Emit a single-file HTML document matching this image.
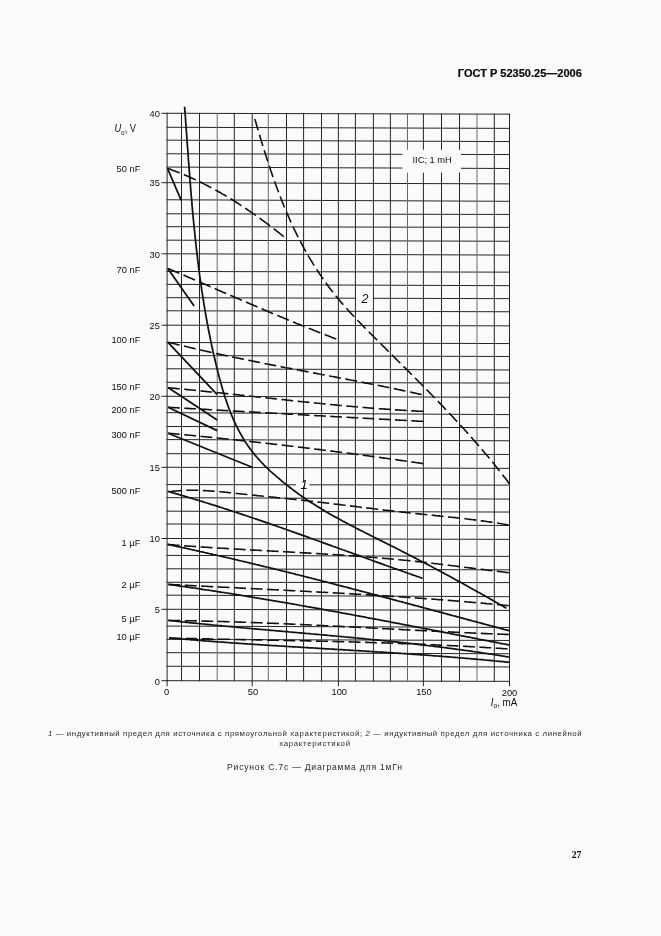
<!DOCTYPE html>
<html><head><meta charset="utf-8"><style>
html,body{margin:0;padding:0;background:#fbfbfb;}
body{width:661px;height:936px;overflow:hidden;font-family:"Liberation Sans",sans-serif;}
svg{display:block;will-change:transform;}
</style></head><body>
<svg width="661" height="936" viewBox="0 0 661 936">
<g fill="#0d0d0d">
<path d="M167.1 112.78L167.1 681.18M181.5 112.82L181.5 681.21M199.5 112.86L199.5 681.25M234.3 112.95L234.3 681.31M252.2 113.00L252.2 681.35M286.5 113.09L286.5 681.42M303.6 113.13L303.6 681.45M321.5 113.18L321.5 681.48M338.4 113.22L338.4 681.52M355.4 113.27L355.4 681.55M373.4 113.31L373.4 681.58M390.4 113.36L390.4 681.62M423.4 113.44L423.4 681.68M441.5 113.49L441.5 681.72M459.5 113.53L459.5 681.75M494.3 113.62L494.3 681.82M509.5 113.66L509.5 681.85M166.6 113.28L510.0 114.16M166.6 127.27L510.0 128.38M166.6 140.17L510.0 141.60M166.6 153.78L510.0 154.56M166.6 167.07L510.0 168.50M166.6 182.67L510.0 183.89M166.6 199.76L510.0 201.31M166.6 213.78L510.0 214.45M166.6 226.68L510.0 227.35M166.6 240.17L510.0 241.28M166.6 253.77L510.0 255.09M166.6 271.48L510.0 272.15M166.6 284.37L510.0 285.69M166.6 297.68L510.0 298.67M166.6 310.78L510.0 311.77M166.6 325.18L510.0 325.85M166.6 342.47L510.0 343.58M166.6 355.58L510.0 356.46M166.6 368.77L510.0 369.99M166.6 382.28L510.0 383.06M166.6 396.28L510.0 397.27M166.6 412.65L510.0 414.64M166.6 426.47L510.0 427.69M166.6 439.57L510.0 440.79M166.6 453.68L510.0 454.46M166.6 467.27L510.0 468.38M166.6 484.59L510.0 485.14M166.6 497.67L510.0 499.10M166.6 511.18L510.0 512.06M166.6 523.96L510.0 525.51M166.6 538.48L510.0 539.36M166.6 555.38L510.0 556.37M166.6 568.77L510.0 569.88M166.6 582.29L510.0 582.62M166.6 595.16L510.0 596.71M166.6 609.27L510.0 610.43M166.6 626.07L510.0 627.45M166.6 639.37L510.0 640.48M166.6 652.67L510.0 653.78M166.6 666.28L510.0 666.95M166.6 680.68L510.0 681.35M161.5 680.7H167.1M161.5 609.3H167.1M161.5 538.5H167.1M161.5 467.3H167.1M161.5 396.3H167.1M161.5 325.2H167.1M161.5 253.8H167.1M161.5 182.7H167.1M161.5 113.3H167.1M167.1 680.68V686.3M252.2 680.85V686.3M338.4 681.02V686.3M423.4 681.18V686.3M509.5 681.35V686.3" stroke="#252525" stroke-width="1.0" fill="none"/>
<path d="M217.2 112.91L217.2 681.28M268.3 113.04L268.3 681.38M407.5 113.40L407.5 681.65M477.0 113.58L477.0 681.78" stroke="#6a6a6a" stroke-width="1.0" fill="none"/>
<rect x="402.5" y="149.8" width="58.5" height="22.8" fill="#fbfbfb"/>
<rect x="356.0" y="296.5" width="16.8" height="3.5" fill="#fbfbfb"/>
<rect x="296.0" y="482.5" width="13.4" height="3.8" fill="#fbfbfb"/>
<path d="M184.6 106.7L184.7 108.2L184.8 109.7L184.9 111.2L185.1 112.7L185.2 114.2L185.3 115.7L185.4 117.2L185.5 118.7L185.6 120.2L185.7 121.7L185.8 123.2L185.9 124.7L186.0 126.2L186.1 127.7L186.2 129.2L186.4 130.7L186.5 132.2L186.6 133.7L186.7 135.2L186.8 136.7L186.9 138.2L187.0 139.7L187.1 141.3L187.2 142.8L187.3 144.3L187.4 145.8L187.5 147.3L187.7 148.8L187.8 150.3L187.9 151.8L188.0 153.3L188.1 154.8L188.2 156.3L188.3 157.8L188.4 159.3L188.5 160.8L188.6 162.3L188.8 163.8L188.9 165.3L189.0 166.8L189.1 168.3L189.2 169.8L189.3 171.3L189.4 172.8L189.6 174.3L189.7 175.8L189.8 177.3L189.9 178.8L190.0 180.3L190.1 181.8L190.3 183.3L190.4 184.8L190.5 186.3L190.6 187.8L190.7 189.3L190.9 190.8L191.0 192.3L191.1 193.8L191.2 195.3L191.4 196.8L191.5 198.3L191.6 199.8L191.8 201.3L191.9 202.9L192.0 204.4L192.1 205.9L192.3 207.4L192.4 208.9L192.5 210.4L192.7 211.9L192.8 213.4L193.0 214.9L193.1 216.4L193.2 217.9L193.4 219.4L193.5 220.9L193.7 222.4L193.8 223.9L194.0 225.4L194.1 226.9L194.3 228.4L194.4 229.9L194.6 231.4L194.7 232.9L194.9 234.4L195.0 235.9L195.2 237.4L195.3 238.9L195.5 240.4L195.7 241.9L195.8 243.3L196.0 244.8L196.1 246.3L196.3 247.8L196.5 249.3L196.7 250.8L196.8 252.3L197.0 253.8L197.2 255.3L197.4 256.8L197.5 258.3L197.7 259.8L197.9 261.3L198.1 262.8L198.3 264.3L198.5 265.8L198.6 267.3L198.8 268.8L199.0 270.3L199.2 271.8L199.4 273.3L199.6 274.8L199.8 276.2L200.0 277.7L200.2 279.2L200.4 280.7L200.6 282.2L200.9 283.7L201.1 285.2L201.3 286.7L201.5 288.2L201.7 289.7L201.9 291.2L202.2 292.7L202.4 294.1L202.6 295.6L202.9 297.1L203.1 298.6L203.3 300.1L203.6 301.6L203.8 303.1L204.0 304.6L204.3 306.0L204.5 307.5L204.8 309.0L205.0 310.5L205.3 312.0L205.5 313.5L205.8 315.0L206.1 316.4L206.3 317.9L206.6 319.4L206.9 320.9L207.1 322.4L207.4 323.9L207.7 325.3L208.0 326.8L208.2 328.3L208.5 329.8L208.8 331.3L209.1 332.7L209.4 334.2L209.7 335.7L210.0 337.2L210.3 338.7L210.6 340.1L210.9 341.6L211.2 343.1L211.5 344.6L211.8 346.0L212.2 347.5L212.5 349.0L212.8 350.5L213.1 351.9L213.5 353.4L213.8 354.9L214.1 356.4L214.5 357.8L214.8 359.3L215.2 360.8L215.5 362.3L215.9 363.7L216.2 365.2L216.6 366.7L216.9 368.1L217.3 369.6L217.7 371.1L218.0 372.5L218.4 374.0L218.8 375.5L219.2 376.9L219.6 378.4L220.0 379.9L220.4 381.3L220.8 382.8L221.2 384.2L221.6 385.7L222.0 387.1L222.4 388.6L222.8 390.0L223.3 391.5L223.7 392.9L224.2 394.4L224.6 395.8L225.1 397.2L225.5 398.7L226.0 400.1L226.5 401.5L227.0 402.9L227.5 404.4L228.0 405.8L228.5 407.2L229.0 408.6L229.6 410.0L230.1 411.4L230.7 412.8L231.2 414.2L231.8 415.6L232.4 416.9L232.9 418.3L233.5 419.7L234.2 421.0L234.8 422.4L235.4 423.7L236.0 425.1L236.7 426.4L237.4 427.7L238.0 429.1L238.7 430.4L239.4 431.7L240.1 433.0L240.8 434.3L241.6 435.6L242.3 436.9L243.1 438.2L243.8 439.4L244.6 440.7L245.4 441.9L246.2 443.2L247.1 444.4L247.9 445.7L248.8 446.9L249.6 448.1L250.5 449.3L251.4 450.5L252.3 451.7L253.2 452.9L254.2 454.0L255.1 455.2L256.1 456.3L257.1 457.5L258.1 458.6L259.1 459.7L260.1 460.9L261.2 462.0L262.2 463.1L263.3 464.2L264.3 465.3L265.4 466.3L266.5 467.4L267.6 468.5L268.7 469.5L269.8 470.6L270.9 471.6L272.1 472.6L273.2 473.7L274.4 474.7L275.5 475.7L276.7 476.7L277.8 477.7L279.0 478.7L280.2 479.7L281.4 480.7L282.5 481.6L283.7 482.6L284.9 483.5L286.1 484.5L287.3 485.4L288.5 486.4L289.7 487.3L290.9 488.2L292.1 489.2L293.4 490.1L294.6 491.0L295.8 491.9L297.0 492.8L298.2 493.7L299.5 494.6L300.7 495.4L301.9 496.3L303.2 497.2L304.4 498.0L305.7 498.9L306.9 499.7L308.2 500.6L309.4 501.4L310.7 502.2L312.0 503.0L313.2 503.8L314.5 504.6L315.8 505.4L317.0 506.2L318.3 507.0L319.6 507.8L320.9 508.6L322.2 509.4L323.4 510.1L324.7 510.9L326.0 511.7L327.3 512.4L328.6 513.2L329.9 513.9L331.2 514.7L332.5 515.4L333.8 516.2L335.1 516.9L336.5 517.6L337.8 518.3L339.1 519.1L340.4 519.8L341.7 520.5L343.0 521.2L344.4 521.9L345.7 522.6L347.0 523.3L348.3 524.0L349.7 524.7L351.0 525.4L352.3 526.1L353.6 526.8L355.0 527.5L356.3 528.2L357.6 528.9L359.0 529.6L360.3 530.3L361.7 530.9L363.0 531.6L364.3 532.3L365.7 533.0L367.0 533.6L368.4 534.3L369.7 535.0L371.0 535.7L372.4 536.3L373.7 537.0L375.1 537.7L376.4 538.4L377.8 539.0L379.1 539.7L380.4 540.4L381.8 541.0L383.1 541.7L384.5 542.4L385.8 543.1L387.2 543.7L388.5 544.4L389.9 545.1L391.2 545.8L392.6 546.4L393.9 547.1L395.2 547.8L396.6 548.5L397.9 549.2L399.3 549.8L400.6 550.5L402.0 551.2L403.3 551.9L404.6 552.6L406.0 553.3L407.3 554.0L408.7 554.7L410.0 555.3L411.3 556.0L412.7 556.7L414.0 557.4L415.4 558.1L416.7 558.8L418.0 559.5L419.4 560.2L420.7 560.9L422.0 561.6L423.4 562.3L424.7 563.0L426.0 563.7L427.4 564.4L428.7 565.1L430.0 565.8L431.4 566.5L432.7 567.2L434.0 568.0L435.4 568.7L436.7 569.4L438.0 570.1L439.4 570.8L440.7 571.5L442.0 572.2L443.4 572.9L444.7 573.7L446.0 574.4L447.3 575.1L448.7 575.8L450.0 576.5L451.3 577.3L452.6 578.0L454.0 578.7L455.3 579.4L456.6 580.2L457.9 580.9L459.3 581.6L460.6 582.3L461.9 583.1L463.2 583.8L464.5 584.5L465.9 585.2L467.2 586.0L468.5 586.7L469.8 587.4L471.1 588.2L472.4 588.9L473.8 589.7L475.1 590.4L476.4 591.1L477.7 591.9L479.0 592.6L480.3 593.3L481.6 594.1L482.9 594.8L484.3 595.6L485.6 596.3L486.9 597.1L488.2 597.8L489.5 598.5L490.8 599.3L492.1 600.0L493.4 600.8L494.7 601.5L496.0 602.3L497.3 603.0L498.6 603.8L499.9 604.5L501.2 605.3L502.5 606.1L503.8 606.8L505.1 607.6L506.4 608.3M167.5 168.3L181.2 200.3M167.8 268.4L194.1 305.9M168.0 342.3L217.2 394.6M168.0 387.6L217.2 420.0M168.0 407.3L217.2 430.6M168.0 433.2L252.2 467.3M167.6 491.3L169.0 491.7L170.5 492.2L172.0 492.6L173.4 493.0L174.9 493.4L176.3 493.8L177.8 494.2L179.3 494.7L180.7 495.1L182.2 495.5L183.6 495.9L185.1 496.4L186.5 496.8L188.0 497.2L189.4 497.7L190.9 498.1L192.3 498.5L193.8 499.0L195.2 499.4L196.7 499.8L198.1 500.3L199.6 500.7L201.0 501.2L202.5 501.6L203.9 502.1L205.4 502.5L206.8 503.0L208.3 503.4L209.7 503.9L211.1 504.3L212.6 504.8L214.0 505.2L215.5 505.7L216.9 506.1L218.4 506.6L219.8 507.1L221.2 507.5L222.7 508.0L224.1 508.5L225.6 508.9L227.0 509.4L228.4 509.9L229.9 510.3L231.3 510.8L232.7 511.3L234.2 511.7L235.6 512.2L237.1 512.7L238.5 513.2L239.9 513.6L241.4 514.1L242.8 514.6L244.2 515.1L245.7 515.5L247.1 516.0L248.5 516.5L250.0 517.0L251.4 517.5L252.8 518.0L254.3 518.5L255.7 518.9L257.1 519.4L258.6 519.9L260.0 520.4L261.4 520.9L262.9 521.4L264.3 521.9L265.7 522.4L267.2 522.9L268.6 523.4L270.0 523.9L271.4 524.3L272.9 524.8L274.3 525.3L275.7 525.8L277.2 526.3L278.6 526.8L280.0 527.3L281.4 527.8L282.9 528.3L284.3 528.8L285.7 529.3L287.1 529.8L288.6 530.3L290.0 530.8L291.4 531.4L292.8 531.9L294.3 532.4L295.7 532.9L297.1 533.4L298.5 533.9L300.0 534.4L301.4 534.9L302.8 535.4L304.2 535.9L305.7 536.4L307.1 536.9L308.5 537.4L309.9 538.0L311.4 538.5L312.8 539.0L314.2 539.5L315.6 540.0L317.1 540.5L318.5 541.0L319.9 541.5L321.3 542.0L322.8 542.6L324.2 543.1L325.6 543.6L327.0 544.1L328.4 544.6L329.9 545.1L331.3 545.6L332.7 546.2L334.1 546.7L335.6 547.2L337.0 547.7L338.4 548.2L339.8 548.7L341.2 549.2L342.7 549.8L344.1 550.3L345.5 550.8L346.9 551.3L348.4 551.8L349.8 552.3L351.2 552.8L352.6 553.4L354.1 553.9L355.5 554.4L356.9 554.9L358.3 555.4L359.7 555.9L361.2 556.4L362.6 557.0L364.0 557.5L365.4 558.0L366.9 558.5L368.3 559.0L369.7 559.5L371.1 560.0L372.6 560.6L374.0 561.1L375.4 561.6L376.8 562.1L378.2 562.6L379.7 563.1L381.1 563.6L382.5 564.1L383.9 564.6L385.4 565.2L386.8 565.7L388.2 566.2L389.6 566.7L391.1 567.2L392.5 567.7L393.9 568.2L395.3 568.7L396.8 569.2L398.2 569.7L399.6 570.2L401.1 570.7L402.5 571.2L403.9 571.8L405.3 572.3L406.8 572.8L408.2 573.3L409.6 573.8L411.0 574.3L412.5 574.8L413.9 575.3L415.3 575.8L416.8 576.3L418.2 576.8L419.6 577.3L421.0 577.8L422.5 578.3M167.6 544.4L169.1 544.7L170.6 545.0L172.0 545.3L173.5 545.7L175.0 546.0L176.5 546.3L178.0 546.6L179.4 546.9L180.9 547.2L182.4 547.6L183.9 547.9L185.4 548.2L186.8 548.5L188.3 548.9L189.8 549.2L191.3 549.5L192.7 549.8L194.2 550.2L195.7 550.5L197.2 550.8L198.7 551.1L200.1 551.5L201.6 551.8L203.1 552.1L204.6 552.5L206.0 552.8L207.5 553.1L209.0 553.5L210.5 553.8L211.9 554.1L213.4 554.5L214.9 554.8L216.4 555.1L217.8 555.5L219.3 555.8L220.8 556.2L222.3 556.5L223.7 556.8L225.2 557.2L226.7 557.5L228.2 557.9L229.6 558.2L231.1 558.5L232.6 558.9L234.0 559.2L235.5 559.6L237.0 559.9L238.5 560.3L239.9 560.6L241.4 561.0L242.9 561.3L244.4 561.7L245.8 562.0L247.3 562.4L248.8 562.7L250.2 563.1L251.7 563.4L253.2 563.8L254.7 564.1L256.1 564.5L257.6 564.8L259.1 565.2L260.5 565.6L262.0 565.9L263.5 566.3L264.9 566.6L266.4 567.0L267.9 567.3L269.4 567.7L270.8 568.1L272.3 568.4L273.8 568.8L275.2 569.2L276.7 569.5L278.2 569.9L279.6 570.2L281.1 570.6L282.6 571.0L284.0 571.3L285.5 571.7L287.0 572.1L288.4 572.4L289.9 572.8L291.4 573.2L292.8 573.5L294.3 573.9L295.8 574.3L297.2 574.6L298.7 575.0L300.2 575.4L301.6 575.7L303.1 576.1L304.6 576.5L306.0 576.9L307.5 577.2L309.0 577.6L310.4 578.0L311.9 578.4L313.4 578.7L314.8 579.1L316.3 579.5L317.8 579.9L319.2 580.2L320.7 580.6L322.2 581.0L323.6 581.4L325.1 581.7L326.6 582.1L328.0 582.5L329.5 582.9L331.0 583.2L332.4 583.6L333.9 584.0L335.3 584.4L336.8 584.8L338.3 585.1L339.7 585.5L341.2 585.9L342.7 586.3L344.1 586.7L345.6 587.0L347.1 587.4L348.5 587.8L350.0 588.2L351.4 588.6L352.9 589.0L354.4 589.3L355.8 589.7L357.3 590.1L358.8 590.5L360.2 590.9L361.7 591.3L363.2 591.7L364.6 592.0L366.1 592.4L367.5 592.8L369.0 593.2L370.5 593.6L371.9 594.0L373.4 594.4L374.9 594.7L376.3 595.1L377.8 595.5L379.2 595.9L380.7 596.3L382.2 596.7L383.6 597.1L385.1 597.5L386.5 597.8L388.0 598.2L389.5 598.6L390.9 599.0L392.4 599.4L393.9 599.8L395.3 600.2L396.8 600.6L398.2 601.0L399.7 601.4L401.2 601.7L402.6 602.1L404.1 602.5L405.6 602.9L407.0 603.3L408.5 603.7L409.9 604.1L411.4 604.5L412.9 604.9L414.3 605.3L415.8 605.7L417.2 606.0L418.7 606.4L420.2 606.8L421.6 607.2L423.1 607.6L424.5 608.0L426.0 608.4L427.5 608.8L428.9 609.2L430.4 609.6L431.9 610.0L433.3 610.4L434.8 610.8L436.2 611.1L437.7 611.5L439.2 611.9L440.6 612.3L442.1 612.7L443.5 613.1L445.0 613.5L446.5 613.9L447.9 614.3L449.4 614.7L450.8 615.1L452.3 615.5L453.8 615.9L455.2 616.2L456.7 616.6L458.2 617.0L459.6 617.4L461.1 617.8L462.5 618.2L464.0 618.6L465.5 619.0L466.9 619.4L468.4 619.8L469.8 620.2L471.3 620.6L472.8 621.0L474.2 621.3L475.7 621.7L477.1 622.1L478.6 622.5L480.1 622.9L481.5 623.3L483.0 623.7L484.4 624.1L485.9 624.5L487.4 624.9L488.8 625.3L490.3 625.7L491.8 626.0L493.2 626.4L494.7 626.8L496.1 627.2L497.6 627.6L499.1 628.0L500.5 628.4L502.0 628.8L503.4 629.2L504.9 629.6L506.4 629.9L507.8 630.3L509.3 630.7M168.3 584.4L169.8 584.6L171.3 584.8L172.8 585.0L174.3 585.2L175.8 585.4L177.3 585.7L178.8 585.9L180.3 586.1L181.8 586.3L183.3 586.5L184.8 586.7L186.3 586.9L187.8 587.1L189.3 587.4L190.8 587.6L192.3 587.8L193.8 588.0L195.3 588.2L196.8 588.5L198.3 588.7L199.7 588.9L201.2 589.1L202.7 589.3L204.2 589.6L205.7 589.8L207.2 590.0L208.7 590.2L210.2 590.5L211.7 590.7L213.2 590.9L214.7 591.1L216.2 591.4L217.7 591.6L219.2 591.8L220.7 592.1L222.2 592.3L223.7 592.5L225.2 592.8L226.7 593.0L228.2 593.2L229.7 593.5L231.1 593.7L232.6 594.0L234.1 594.2L235.6 594.4L237.1 594.7L238.6 594.9L240.1 595.1L241.6 595.4L243.1 595.6L244.6 595.9L246.1 596.1L247.6 596.4L249.1 596.6L250.6 596.8L252.0 597.1L253.5 597.3L255.0 597.6L256.5 597.8L258.0 598.1L259.5 598.3L261.0 598.6L262.5 598.8L264.0 599.1L265.5 599.3L267.0 599.6L268.5 599.8L270.0 600.1L271.4 600.3L272.9 600.6L274.4 600.8L275.9 601.1L277.4 601.4L278.9 601.6L280.4 601.9L281.9 602.1L283.4 602.4L284.9 602.6L286.3 602.9L287.8 603.2L289.3 603.4L290.8 603.7L292.3 603.9L293.8 604.2L295.3 604.5L296.8 604.7L298.3 605.0L299.8 605.3L301.2 605.5L302.7 605.8L304.2 606.0L305.7 606.3L307.2 606.6L308.7 606.8L310.2 607.1L311.7 607.4L313.2 607.6L314.6 607.9L316.1 608.2L317.6 608.4L319.1 608.7L320.6 609.0L322.1 609.2L323.6 609.5L325.1 609.8L326.6 610.1L328.0 610.3L329.5 610.6L331.0 610.9L332.5 611.1L334.0 611.4L335.5 611.7L337.0 612.0L338.5 612.2L339.9 612.5L341.4 612.8L342.9 613.1L344.4 613.3L345.9 613.6L347.4 613.9L348.9 614.2L350.4 614.4L351.8 614.7L353.3 615.0L354.8 615.3L356.3 615.5L357.8 615.8L359.3 616.1L360.8 616.4L362.3 616.7L363.7 616.9L365.2 617.2L366.7 617.5L368.2 617.8L369.7 618.1L371.2 618.3L372.7 618.6L374.1 618.9L375.6 619.2L377.1 619.5L378.6 619.7L380.1 620.0L381.6 620.3L383.1 620.6L384.6 620.9L386.0 621.2L387.5 621.4L389.0 621.7L390.5 622.0L392.0 622.3L393.5 622.6L395.0 622.9L396.4 623.1L397.9 623.4L399.4 623.7L400.9 624.0L402.4 624.3L403.9 624.6L405.4 624.9L406.8 625.1L408.3 625.4L409.8 625.7L411.3 626.0L412.8 626.3L414.3 626.6L415.7 626.9L417.2 627.1L418.7 627.4L420.2 627.7L421.7 628.0L423.2 628.3L424.7 628.6L426.1 628.9L427.6 629.2L429.1 629.4L430.6 629.7L432.1 630.0L433.6 630.3L435.1 630.6L436.5 630.9L438.0 631.2L439.5 631.5L441.0 631.8L442.5 632.0L444.0 632.3L445.5 632.6L446.9 632.9L448.4 633.2L449.9 633.5L451.4 633.8L452.9 634.1L454.4 634.3L455.8 634.6L457.3 634.9L458.8 635.2L460.3 635.5L461.8 635.8L463.3 636.1L464.8 636.4L466.2 636.7L467.7 636.9L469.2 637.2L470.7 637.5L472.2 637.8L473.7 638.1L475.1 638.4L476.6 638.7L478.1 639.0L479.6 639.3L481.1 639.5L482.6 639.8L484.1 640.1L485.5 640.4L487.0 640.7L488.5 641.0L490.0 641.3L491.5 641.6L493.0 641.8L494.5 642.1L495.9 642.4L497.4 642.7L498.9 643.0L500.4 643.3L501.9 643.6L503.4 643.9L504.8 644.1L506.3 644.4L507.8 644.7L509.3 645.0M168.3 620.3L169.8 620.5L171.3 620.7L172.8 620.8L174.3 621.0L175.8 621.2L177.3 621.3L178.8 621.5L180.3 621.6L181.8 621.8L183.3 622.0L184.8 622.1L186.3 622.3L187.8 622.4L189.3 622.6L190.8 622.8L192.3 622.9L193.8 623.1L195.4 623.2L196.9 623.4L198.4 623.5L199.9 623.7L201.4 623.8L202.9 624.0L204.4 624.1L205.9 624.3L207.4 624.4L208.9 624.6L210.4 624.7L211.9 624.9L213.4 625.0L214.9 625.2L216.4 625.3L217.9 625.5L219.4 625.6L220.9 625.7L222.4 625.9L223.9 626.0L225.4 626.2L226.9 626.3L228.4 626.5L229.9 626.6L231.4 626.7L233.0 626.9L234.5 627.0L236.0 627.2L237.5 627.3L239.0 627.4L240.5 627.6L242.0 627.7L243.5 627.9L245.0 628.0L246.5 628.1L248.0 628.3L249.5 628.4L251.0 628.5L252.5 628.7L254.0 628.8L255.5 628.9L257.0 629.1L258.5 629.2L260.0 629.3L261.6 629.5L263.1 629.6L264.6 629.7L266.1 629.9L267.6 630.0L269.1 630.1L270.6 630.3L272.1 630.4L273.6 630.5L275.1 630.7L276.6 630.8L278.1 630.9L279.6 631.1L281.1 631.2L282.6 631.3L284.1 631.5L285.6 631.6L287.2 631.7L288.7 631.9L290.2 632.0L291.7 632.1L293.2 632.3L294.7 632.4L296.2 632.5L297.7 632.7L299.2 632.8L300.7 632.9L302.2 633.1L303.7 633.2L305.2 633.3L306.7 633.5L308.2 633.6L309.7 633.7L311.2 633.9L312.7 634.0L314.3 634.1L315.8 634.3L317.3 634.4L318.8 634.5L320.3 634.7L321.8 634.8L323.3 634.9L324.8 635.1L326.3 635.2L327.8 635.4L329.3 635.5L330.8 635.6L332.3 635.8L333.8 635.9L335.3 636.0L336.8 636.2L338.3 636.3L339.8 636.4L341.3 636.6L342.9 636.7L344.4 636.9L345.9 637.0L347.4 637.1L348.9 637.3L350.4 637.4L351.9 637.6L353.4 637.7L354.9 637.9L356.4 638.0L357.9 638.1L359.4 638.3L360.9 638.4L362.4 638.6L363.9 638.7L365.4 638.9L366.9 639.0L368.4 639.2L369.9 639.3L371.4 639.5L372.9 639.6L374.4 639.8L375.9 639.9L377.5 640.1L379.0 640.2L380.5 640.4L382.0 640.5L383.5 640.7L385.0 640.8L386.5 641.0L388.0 641.1L389.5 641.3L391.0 641.4L392.5 641.6L394.0 641.8L395.5 641.9L397.0 642.1L398.5 642.2L400.0 642.4L401.5 642.6L403.0 642.7L404.5 642.9L406.0 643.1L407.5 643.2L409.0 643.4L410.5 643.6L412.0 643.7L413.5 643.9L415.0 644.1L416.5 644.2L418.0 644.4L419.5 644.6L421.0 644.8L422.5 644.9L424.0 645.1L425.5 645.3L427.0 645.5L428.5 645.7L430.0 645.8L431.5 646.0L433.0 646.2L434.5 646.4L436.0 646.6L437.5 646.7L439.0 646.9L440.5 647.1L442.0 647.3L443.5 647.5L445.0 647.7L446.5 647.9L448.0 648.1L449.5 648.3L451.0 648.5L452.5 648.7L454.0 648.9L455.5 649.1L457.0 649.3L458.5 649.5L460.0 649.7L461.5 649.9L463.0 650.1L464.5 650.3L466.0 650.5L467.5 650.7L469.0 650.9L470.5 651.1L472.0 651.3L473.5 651.5L475.0 651.8L476.5 652.0L477.9 652.2L479.4 652.4L480.9 652.6L482.4 652.9L483.9 653.1L485.4 653.3L486.9 653.5L488.4 653.8L489.9 654.0L491.4 654.2L492.9 654.5L494.4 654.7L495.9 654.9L497.4 655.2L498.9 655.4L500.4 655.6L501.8 655.9L503.3 656.1L504.8 656.4L506.3 656.6L507.8 656.9L509.3 657.1M169.0 637.9L170.5 638.0L172.0 638.1L173.5 638.3L175.0 638.4L176.5 638.5L178.0 638.7L179.5 638.8L181.0 638.9L182.6 639.0L184.1 639.2L185.6 639.3L187.1 639.4L188.6 639.5L190.1 639.7L191.6 639.8L193.1 639.9L194.6 640.0L196.1 640.2L197.6 640.3L199.1 640.4L200.6 640.5L202.1 640.6L203.6 640.8L205.1 640.9L206.6 641.0L208.1 641.1L209.6 641.2L211.2 641.3L212.7 641.4L214.2 641.6L215.7 641.7L217.2 641.8L218.7 641.9L220.2 642.0L221.7 642.1L223.2 642.2L224.7 642.3L226.2 642.4L227.7 642.5L229.2 642.7L230.7 642.8L232.2 642.9L233.7 643.0L235.2 643.1L236.8 643.2L238.3 643.3L239.8 643.4L241.3 643.5L242.8 643.6L244.3 643.7L245.8 643.8L247.3 643.9L248.8 644.0L250.3 644.1L251.8 644.2L253.3 644.3L254.8 644.4L256.3 644.5L257.8 644.6L259.3 644.7L260.9 644.8L262.4 644.9L263.9 645.0L265.4 645.1L266.9 645.2L268.4 645.3L269.9 645.4L271.4 645.5L272.9 645.6L274.4 645.6L275.9 645.7L277.4 645.8L278.9 645.9L280.4 646.0L282.0 646.1L283.5 646.2L285.0 646.3L286.5 646.4L288.0 646.5L289.5 646.6L291.0 646.7L292.5 646.8L294.0 646.9L295.5 646.9L297.0 647.0L298.5 647.1L300.0 647.2L301.5 647.3L303.0 647.4L304.6 647.5L306.1 647.6L307.6 647.7L309.1 647.8L310.6 647.9L312.1 647.9L313.6 648.0L315.1 648.1L316.6 648.2L318.1 648.3L319.6 648.4L321.1 648.5L322.6 648.6L324.1 648.7L325.7 648.8L327.2 648.8L328.7 648.9L330.2 649.0L331.7 649.1L333.2 649.2L334.7 649.3L336.2 649.4L337.7 649.5L339.2 649.6L340.7 649.7L342.2 649.7L343.7 649.8L345.2 649.9L346.8 650.0L348.3 650.1L349.8 650.2L351.3 650.3L352.8 650.4L354.3 650.5L355.8 650.6L357.3 650.7L358.8 650.7L360.3 650.8L361.8 650.9L363.3 651.0L364.8 651.1L366.3 651.2L367.8 651.3L369.4 651.4L370.9 651.5L372.4 651.6L373.9 651.7L375.4 651.8L376.9 651.9L378.4 652.0L379.9 652.1L381.4 652.2L382.9 652.2L384.4 652.3L385.9 652.4L387.4 652.5L388.9 652.6L390.4 652.7L392.0 652.8L393.5 652.9L395.0 653.0L396.5 653.1L398.0 653.2L399.5 653.3L401.0 653.4L402.5 653.5L404.0 653.6L405.5 653.7L407.0 653.8L408.5 653.9L410.0 654.0L411.5 654.1L413.0 654.3L414.5 654.4L416.0 654.5L417.6 654.6L419.1 654.7L420.6 654.8L422.1 654.9L423.6 655.0L425.1 655.1L426.6 655.2L428.1 655.3L429.6 655.4L431.1 655.5L432.6 655.7L434.1 655.8L435.6 655.9L437.1 656.0L438.6 656.1L440.1 656.2L441.6 656.3L443.1 656.5L444.7 656.6L446.2 656.7L447.7 656.8L449.2 656.9L450.7 657.0L452.2 657.2L453.7 657.3L455.2 657.4L456.7 657.5L458.2 657.7L459.7 657.8L461.2 657.9L462.7 658.0L464.2 658.2L465.7 658.3L467.2 658.4L468.7 658.5L470.2 658.7L471.7 658.8L473.2 658.9L474.7 659.1L476.2 659.2L477.7 659.3L479.2 659.5L480.8 659.6L482.3 659.7L483.8 659.9L485.3 660.0L486.8 660.2L488.3 660.3L489.8 660.4L491.3 660.6L492.8 660.7L494.3 660.9L495.8 661.0L497.3 661.2L498.8 661.3L500.3 661.4L501.8 661.6L503.3 661.7L504.8 661.9L506.3 662.1L507.8 662.2L509.3 662.4" stroke="#111" stroke-width="1.75" fill="none" stroke-linejoin="round"/>
<path d="M254.8 119.0L255.2 120.4L255.7 121.9L256.1 123.3L256.5 124.7L256.9 126.2L257.3 127.6L257.8 129.0L258.2 130.5L258.6 131.9L259.0 133.3L259.5 134.8L259.9 136.2L260.3 137.6L260.8 139.1L261.2 140.5L261.6 141.9L262.1 143.4L262.5 144.8L262.9 146.3L263.4 147.7L263.8 149.1L264.3 150.6L264.7 152.0L265.2 153.5L265.7 154.9L266.1 156.3L266.6 157.8L267.0 159.2L267.5 160.6L268.0 162.1L268.4 163.5L268.9 164.9L269.4 166.4L269.9 167.8L270.4 169.3L270.8 170.7L271.3 172.1L271.8 173.6L272.3 175.0L272.8 176.4L273.3 177.8L273.8 179.3L274.3 180.7L274.8 182.1L275.3 183.5L275.9 185.0L276.4 186.4L276.9 187.8L277.4 189.2L278.0 190.7L278.5 192.1L279.0 193.5L279.6 194.9L280.1 196.3L280.7 197.7L281.2 199.1L281.8 200.6L282.3 202.0L282.9 203.4L283.5 204.8L284.0 206.2L284.6 207.6L285.2 209.0L285.8 210.4L286.4 211.8L287.0 213.2L287.6 214.5L288.2 215.9L288.8 217.3L289.4 218.7L290.0 220.1L290.6 221.5L291.3 222.8L291.9 224.2L292.5 225.6L293.2 227.0L293.8 228.3L294.5 229.7L295.1 231.0L295.8 232.4L296.5 233.8L297.1 235.1L297.8 236.5L298.5 237.8L299.2 239.2L299.9 240.5L300.6 241.8L301.3 243.2L302.0 244.5L302.7 245.8L303.4 247.2L304.1 248.5L304.9 249.8L305.6 251.1L306.3 252.4L307.1 253.7L307.8 255.0L308.6 256.3L309.4 257.6L310.1 258.9L310.9 260.2L311.7 261.5L312.5 262.8L313.3 264.1L314.1 265.4L314.9 266.6L315.7 267.9L316.5 269.2L317.3 270.4L318.2 271.7L319.0 272.9L319.8 274.2L320.7 275.4L321.5 276.7L322.4 277.9L323.2 279.2L324.1 280.4L325.0 281.6L325.9 282.8L326.7 284.0L327.6 285.3L328.5 286.5L329.4 287.7L330.3 288.9L331.3 290.1L332.2 291.3L333.1 292.4L334.0 293.6L335.0 294.8L335.9 296.0L336.9 297.1L337.8 298.3L338.8 299.5L339.7 300.6L340.7 301.8L341.7 302.9L342.7 304.0L343.7 305.2L344.6 306.3L345.6 307.4L346.6 308.5L347.7 309.7L348.7 310.8L349.7 311.9L350.7 313.0L351.7 314.1L352.7 315.2L353.8 316.3L354.8 317.4L355.8 318.5L356.9 319.6L357.9 320.7L359.0 321.8L360.0 322.8L361.1 323.9L362.1 325.0L363.2 326.1L364.2 327.1L365.3 328.2L366.3 329.3L367.4 330.4L368.5 331.4L369.5 332.5L370.6 333.6L371.7 334.6L372.7 335.7L373.8 336.8L374.9 337.8L375.9 338.9L377.0 340.0L378.1 341.0L379.1 342.1L380.2 343.2L381.3 344.2L382.3 345.3L383.4 346.4L384.5 347.4L385.5 348.5L386.6 349.6L387.7 350.6L388.8 351.7L389.8 352.8L390.9 353.8L392.0 354.9L393.0 356.0L394.1 357.0L395.2 358.1L396.2 359.1L397.3 360.2L398.4 361.3L399.4 362.3L400.5 363.4L401.6 364.5L402.7 365.5L403.7 366.6L404.8 367.7L405.9 368.7L406.9 369.8L408.0 370.9L409.1 371.9L410.1 373.0L411.2 374.1L412.2 375.1L413.3 376.2L414.4 377.3L415.4 378.3L416.5 379.4L417.6 380.5L418.6 381.6L419.7 382.6L420.8 383.7L421.8 384.8L422.9 385.9L423.9 386.9L425.0 388.0L426.0 389.1L427.1 390.2L428.2 391.2L429.2 392.3L430.3 393.4L431.3 394.5L432.4 395.5L433.4 396.6L434.5 397.7L435.5 398.8L436.6 399.9L437.6 401.0L438.7 402.0L439.7 403.1L440.7 404.2L441.8 405.3L442.8 406.4L443.9 407.5L444.9 408.6L446.0 409.7L447.0 410.8L448.0 411.9L449.1 413.0L450.1 414.1L451.1 415.2L452.2 416.3L453.2 417.4L454.2 418.5L455.2 419.6L456.3 420.7L457.3 421.8L458.3 422.9L459.3 424.0L460.3 425.1L461.4 426.2L462.4 427.3L463.4 428.4L464.4 429.6L465.4 430.7L466.4 431.8L467.4 432.9L468.4 434.0L469.4 435.2L470.4 436.3L471.4 437.4L472.4 438.5L473.4 439.7L474.4 440.8L475.4 441.9L476.4 443.1L477.4 444.2L478.4 445.4L479.4 446.5L480.4 447.6L481.4 448.8L482.3 449.9L483.3 451.1L484.3 452.2L485.3 453.4L486.2 454.5L487.2 455.7L488.2 456.8L489.1 458.0L490.1 459.2L491.0 460.3L492.0 461.5L493.0 462.7L493.9 463.8L494.9 465.0L495.8 466.2L496.8 467.4L497.7 468.5L498.6 469.7L499.6 470.9L500.5 472.1L501.5 473.3L502.4 474.5L503.3 475.7L504.2 476.9L505.2 478.1L506.1 479.3L507.0 480.5L507.9 481.7L508.8 482.9L509.7 484.1" stroke="#111" stroke-width="1.6" fill="none" stroke-linejoin="round" stroke-dasharray="11.82 4.50"/>
<path d="M167.5 168.3L168.9 168.8L170.4 169.3L171.8 169.9L173.2 170.4L174.7 170.9L176.1 171.5L177.5 172.0L178.9 172.6L180.4 173.2L181.8 173.7L183.2 174.3L184.6 174.9L186.0 175.5L187.4 176.1L188.8 176.7L190.2 177.3L191.6 178.0L192.9 178.6L194.3 179.2L195.7 179.9L197.1 180.5L198.5 181.2L199.8 181.8L201.2 182.5L202.6 183.2L203.9 183.9L205.3 184.6L206.6 185.3L208.0 186.0L209.3 186.7L210.7 187.4L212.0 188.1L213.4 188.8L214.7 189.6L216.0 190.3L217.4 191.0L218.7 191.8L220.0 192.5L221.3 193.3L222.7 194.1L224.0 194.8L225.3 195.6L226.6 196.4L227.9 197.2L229.2 197.9L230.5 198.7L231.8 199.5L233.1 200.3L234.4 201.2L235.7 202.0L237.0 202.8L238.3 203.6L239.5 204.4L240.8 205.3L242.1 206.1L243.4 206.9L244.6 207.8L245.9 208.6L247.2 209.5L248.4 210.3L249.7 211.2L251.0 212.1L252.2 212.9L253.5 213.8L254.7 214.7L256.0 215.6L257.2 216.5L258.4 217.3L259.7 218.2L260.9 219.1L262.1 220.0L263.4 220.9L264.6 221.8L265.8 222.7L267.1 223.6L268.3 224.6L269.5 225.5L270.7 226.4L271.9 227.3L273.1 228.2L274.3 229.2L275.5 230.1L276.7 231.0L277.9 232.0L279.1 232.9L280.3 233.9L281.5 234.8L282.7 235.8L283.9 236.7" stroke="#111" stroke-width="1.6" fill="none" stroke-linejoin="round" stroke-dasharray="13.02 4.50"/>
<path d="M167.8 268.4L169.2 269.0L170.6 269.6L172.0 270.2L173.4 270.8L174.8 271.4L176.2 272.0L177.6 272.6L179.0 273.2L180.4 273.8L181.8 274.4L183.2 275.0L184.6 275.6L186.0 276.2L187.4 276.8L188.8 277.4L190.2 278.0L191.6 278.6L193.0 279.2L194.4 279.8L195.8 280.4L197.2 281.0L198.6 281.6L200.0 282.2L201.4 282.8L202.8 283.4L204.2 284.0L205.6 284.6L207.0 285.2L208.4 285.8L209.8 286.4L211.2 287.0L212.6 287.6L214.0 288.2L215.4 288.8L216.8 289.5L218.1 290.1L219.5 290.7L220.9 291.3L222.3 291.9L223.7 292.5L225.1 293.1L226.5 293.7L227.9 294.3L229.3 294.9L230.7 295.5L232.1 296.1L233.5 296.7L234.9 297.3L236.3 297.9L237.7 298.5L239.1 299.1L240.5 299.7L241.9 300.3L243.3 300.9L244.7 301.5L246.1 302.1L247.5 302.7L248.9 303.3L250.3 303.9L251.7 304.5L253.1 305.1L254.5 305.7L255.9 306.3L257.3 306.9L258.7 307.5L260.1 308.1L261.5 308.7L262.9 309.3L264.3 309.9L265.7 310.5L267.1 311.1L268.5 311.7L269.9 312.3L271.3 312.9L272.7 313.5L274.1 314.0L275.5 314.6L276.9 315.2L278.3 315.8L279.8 316.4L281.2 317.0L282.6 317.6L284.0 318.2L285.4 318.7L286.8 319.3L288.2 319.9L289.6 320.5L291.0 321.1L292.4 321.6L293.8 322.2L295.2 322.8L296.6 323.4L298.0 323.9L299.5 324.5L300.9 325.1L302.3 325.7L303.7 326.2L305.1 326.8L306.5 327.4L307.9 327.9L309.3 328.5L310.8 329.1L312.2 329.6L313.6 330.2L315.0 330.8L316.4 331.3L317.8 331.9L319.3 332.4L320.7 333.0L322.1 333.5L323.5 334.1L324.9 334.6L326.3 335.2L327.8 335.7L329.2 336.3L330.6 336.8L332.0 337.4L333.5 337.9L334.9 338.5L336.3 339.0" stroke="#111" stroke-width="1.6" fill="none" stroke-linejoin="round" stroke-dasharray="12.52 4.50"/>
<path d="M168.0 342.2L169.5 342.5L171.0 342.9L172.4 343.3L173.9 343.6L175.4 344.0L176.9 344.4L178.3 344.7L179.8 345.1L181.3 345.4L182.7 345.8L184.2 346.1L185.7 346.5L187.2 346.8L188.6 347.2L190.1 347.5L191.6 347.9L193.1 348.2L194.5 348.6L196.0 348.9L197.5 349.3L199.0 349.6L200.4 349.9L201.9 350.3L203.4 350.6L204.9 351.0L206.3 351.3L207.8 351.6L209.3 351.9L210.8 352.3L212.3 352.6L213.7 352.9L215.2 353.3L216.7 353.6L218.2 353.9L219.7 354.2L221.1 354.5L222.6 354.9L224.1 355.2L225.6 355.5L227.1 355.8L228.5 356.1L230.0 356.4L231.5 356.8L233.0 357.1L234.5 357.4L235.9 357.7L237.4 358.0L238.9 358.3L240.4 358.6L241.9 358.9L243.4 359.2L244.8 359.5L246.3 359.8L247.8 360.1L249.3 360.4L250.8 360.7L252.3 361.0L253.7 361.3L255.2 361.6L256.7 361.9L258.2 362.2L259.7 362.5L261.2 362.8L262.7 363.1L264.1 363.4L265.6 363.7L267.1 364.0L268.6 364.3L270.1 364.6L271.6 364.9L273.1 365.2L274.5 365.4L276.0 365.7L277.5 366.0L279.0 366.3L280.5 366.6L282.0 366.9L283.5 367.2L284.9 367.5L286.4 367.7L287.9 368.0L289.4 368.3L290.9 368.6L292.4 368.9L293.9 369.2L295.4 369.5L296.8 369.7L298.3 370.0L299.8 370.3L301.3 370.6L302.8 370.9L304.3 371.2L305.8 371.4L307.3 371.7L308.7 372.0L310.2 372.3L311.7 372.6L313.2 372.9L314.7 373.1L316.2 373.4L317.7 373.7L319.2 374.0L320.6 374.3L322.1 374.6L323.6 374.8L325.1 375.1L326.6 375.4L328.1 375.7L329.6 376.0L331.1 376.3L332.5 376.5L334.0 376.8L335.5 377.1L337.0 377.4L338.5 377.7L340.0 378.0L341.5 378.2L343.0 378.5L344.4 378.8L345.9 379.1L347.4 379.4L348.9 379.7L350.4 380.0L351.9 380.2L353.4 380.5L354.9 380.8L356.3 381.1L357.8 381.4L359.3 381.7L360.8 382.0L362.3 382.3L363.8 382.6L365.3 382.9L366.7 383.1L368.2 383.4L369.7 383.7L371.2 384.0L372.7 384.3L374.2 384.6L375.7 384.9L377.1 385.2L378.6 385.5L380.1 385.8L381.6 386.1L383.1 386.4L384.6 386.7L386.1 387.0L387.5 387.3L389.0 387.6L390.5 387.9L392.0 388.2L393.5 388.5L395.0 388.8L396.4 389.1L397.9 389.5L399.4 389.8L400.9 390.1L402.4 390.4L403.8 390.7L405.3 391.0L406.8 391.3L408.3 391.6L409.8 392.0L411.3 392.3L412.7 392.6L414.2 392.9L415.7 393.2L417.2 393.6L418.7 393.9L420.1 394.2L421.6 394.5" stroke="#111" stroke-width="1.6" fill="none" stroke-linejoin="round" stroke-dasharray="11.97 4.50"/>
<path d="M168.0 387.7L169.5 387.9L171.0 388.0L172.5 388.1L174.0 388.3L175.5 388.4L177.0 388.6L178.6 388.7L180.1 388.9L181.6 389.0L183.1 389.2L184.6 389.3L186.1 389.4L187.6 389.6L189.1 389.7L190.6 389.9L192.1 390.0L193.6 390.2L195.2 390.3L196.7 390.5L198.2 390.6L199.7 390.8L201.2 391.0L202.7 391.1L204.2 391.3L205.7 391.4L207.2 391.6L208.7 391.7L210.2 391.9L211.7 392.0L213.3 392.2L214.8 392.4L216.3 392.5L217.8 392.7L219.3 392.8L220.8 393.0L222.3 393.1L223.8 393.3L225.3 393.5L226.8 393.6L228.3 393.8L229.8 393.9L231.3 394.1L232.9 394.3L234.4 394.4L235.9 394.6L237.4 394.8L238.9 394.9L240.4 395.1L241.9 395.2L243.4 395.4L244.9 395.6L246.4 395.7L247.9 395.9L249.4 396.0L250.9 396.2L252.4 396.4L254.0 396.5L255.5 396.7L257.0 396.9L258.5 397.0L260.0 397.2L261.5 397.3L263.0 397.5L264.5 397.7L266.0 397.8L267.5 398.0L269.0 398.2L270.5 398.3L272.0 398.5L273.6 398.6L275.1 398.8L276.6 399.0L278.1 399.1L279.6 399.3L281.1 399.4L282.6 399.6L284.1 399.8L285.6 399.9L287.1 400.1L288.6 400.2L290.1 400.4L291.6 400.6L293.2 400.7L294.7 400.9L296.2 401.0L297.7 401.2L299.2 401.4L300.7 401.5L302.2 401.7L303.7 401.8L305.2 402.0L306.7 402.1L308.2 402.3L309.7 402.4L311.2 402.6L312.8 402.7L314.3 402.9L315.8 403.0L317.3 403.2L318.8 403.3L320.3 403.5L321.8 403.6L323.3 403.8L324.8 403.9L326.3 404.1L327.8 404.2L329.4 404.4L330.9 404.5L332.4 404.7L333.9 404.8L335.4 404.9L336.9 405.1L338.4 405.2L339.9 405.4L341.4 405.5L342.9 405.6L344.4 405.8L346.0 405.9L347.5 406.1L349.0 406.2L350.5 406.3L352.0 406.5L353.5 406.6L355.0 406.7L356.5 406.8L358.0 407.0L359.5 407.1L361.1 407.2L362.6 407.4L364.1 407.5L365.6 407.6L367.1 407.7L368.6 407.9L370.1 408.0L371.6 408.1L373.1 408.2L374.7 408.3L376.2 408.4L377.7 408.6L379.2 408.7L380.7 408.8L382.2 408.9L383.7 409.0L385.2 409.1L386.8 409.2L388.3 409.3L389.8 409.4L391.3 409.5L392.8 409.6L394.3 409.8L395.8 409.9L397.3 409.9L398.9 410.0L400.4 410.1L401.9 410.2L403.4 410.3L404.9 410.4L406.4 410.5L407.9 410.6L409.5 410.7L411.0 410.8L412.5 410.9L414.0 410.9L415.5 411.0L417.0 411.1L418.6 411.2L420.1 411.3L421.6 411.3L423.1 411.4" stroke="#111" stroke-width="1.6" fill="none" stroke-linejoin="round" stroke-dasharray="11.80 4.50"/>
<path d="M168.0 407.3L169.5 407.4L171.0 407.5L172.5 407.6L174.0 407.6L175.5 407.7L177.1 407.8L178.6 407.9L180.1 408.0L181.6 408.1L183.1 408.2L184.6 408.2L186.1 408.3L187.6 408.4L189.1 408.5L190.6 408.6L192.1 408.7L193.7 408.8L195.2 408.8L196.7 408.9L198.2 409.0L199.7 409.1L201.2 409.2L202.7 409.3L204.2 409.4L205.7 409.4L207.2 409.5L208.8 409.6L210.3 409.7L211.8 409.8L213.3 409.9L214.8 409.9L216.3 410.0L217.8 410.1L219.3 410.2L220.8 410.3L222.3 410.4L223.8 410.5L225.4 410.5L226.9 410.6L228.4 410.7L229.9 410.8L231.4 410.9L232.9 411.0L234.4 411.1L235.9 411.1L237.4 411.2L238.9 411.3L240.4 411.4L242.0 411.5L243.5 411.6L245.0 411.6L246.5 411.7L248.0 411.8L249.5 411.9L251.0 412.0L252.5 412.1L254.0 412.1L255.5 412.2L257.1 412.3L258.6 412.4L260.1 412.5L261.6 412.6L263.1 412.7L264.6 412.7L266.1 412.8L267.6 412.9L269.1 413.0L270.6 413.1L272.1 413.2L273.7 413.2L275.2 413.3L276.7 413.4L278.2 413.5L279.7 413.6L281.2 413.7L282.7 413.7L284.2 413.8L285.7 413.9L287.2 414.0L288.8 414.1L290.3 414.2L291.8 414.2L293.3 414.3L294.8 414.4L296.3 414.5L297.8 414.6L299.3 414.7L300.8 414.7L302.3 414.8L303.8 414.9L305.4 415.0L306.9 415.1L308.4 415.2L309.9 415.2L311.4 415.3L312.9 415.4L314.4 415.5L315.9 415.6L317.4 415.7L318.9 415.7L320.5 415.8L322.0 415.9L323.5 416.0L325.0 416.1L326.5 416.2L328.0 416.2L329.5 416.3L331.0 416.4L332.5 416.5L334.0 416.6L335.5 416.7L337.1 416.7L338.6 416.8L340.1 416.9L341.6 417.0L343.1 417.1L344.6 417.2L346.1 417.2L347.6 417.3L349.1 417.4L350.6 417.5L352.2 417.6L353.7 417.6L355.2 417.7L356.7 417.8L358.2 417.9L359.7 418.0L361.2 418.1L362.7 418.1L364.2 418.2L365.7 418.3L367.2 418.4L368.8 418.5L370.3 418.5L371.8 418.6L373.3 418.7L374.8 418.8L376.3 418.9L377.8 419.0L379.3 419.0L380.8 419.1L382.3 419.2L383.9 419.3L385.4 419.4L386.9 419.4L388.4 419.5L389.9 419.6L391.4 419.7L392.9 419.8L394.4 419.9L395.9 419.9L397.4 420.0L398.9 420.1L400.5 420.2L402.0 420.3L403.5 420.3L405.0 420.4L406.5 420.5L408.0 420.6L409.5 420.7L411.0 420.8L412.5 420.8L414.0 420.9L415.6 421.0L417.1 421.1L418.6 421.2L420.1 421.2L421.6 421.3L423.1 421.4" stroke="#111" stroke-width="1.6" fill="none" stroke-linejoin="round" stroke-dasharray="11.75 4.50"/>
<path d="M168.0 433.2L169.5 433.3L171.0 433.5L172.5 433.6L174.0 433.8L175.5 433.9L177.0 434.0L178.5 434.2L180.0 434.3L181.5 434.5L183.1 434.6L184.6 434.8L186.1 434.9L187.6 435.0L189.1 435.2L190.6 435.3L192.1 435.5L193.6 435.6L195.1 435.8L196.6 435.9L198.1 436.1L199.6 436.2L201.1 436.4L202.6 436.5L204.1 436.7L205.6 436.8L207.1 437.0L208.6 437.1L210.1 437.3L211.6 437.4L213.1 437.6L214.6 437.7L216.1 437.9L217.6 438.0L219.2 438.2L220.7 438.3L222.2 438.5L223.7 438.7L225.2 438.8L226.7 439.0L228.2 439.1L229.7 439.3L231.2 439.4L232.7 439.6L234.2 439.8L235.7 439.9L237.2 440.1L238.7 440.2L240.2 440.4L241.7 440.6L243.2 440.7L244.7 440.9L246.2 441.0L247.7 441.2L249.2 441.4L250.7 441.5L252.2 441.7L253.7 441.9L255.2 442.0L256.7 442.2L258.2 442.4L259.7 442.5L261.2 442.7L262.7 442.9L264.2 443.0L265.7 443.2L267.2 443.4L268.7 443.5L270.2 443.7L271.7 443.9L273.2 444.1L274.7 444.2L276.2 444.4L277.7 444.6L279.2 444.8L280.7 444.9L282.2 445.1L283.7 445.3L285.2 445.5L286.7 445.6L288.3 445.8L289.8 446.0L291.3 446.2L292.8 446.3L294.3 446.5L295.8 446.7L297.3 446.9L298.8 447.1L300.3 447.2L301.8 447.4L303.3 447.6L304.8 447.8L306.3 448.0L307.8 448.1L309.3 448.3L310.8 448.5L312.3 448.7L313.8 448.9L315.3 449.1L316.8 449.2L318.3 449.4L319.8 449.6L321.3 449.8L322.8 450.0L324.3 450.2L325.8 450.4L327.3 450.6L328.8 450.7L330.3 450.9L331.8 451.1L333.3 451.3L334.8 451.5L336.2 451.7L337.7 451.9L339.2 452.1L340.7 452.3L342.2 452.5L343.7 452.7L345.2 452.9L346.7 453.0L348.2 453.2L349.7 453.4L351.2 453.6L352.7 453.8L354.2 454.0L355.7 454.2L357.2 454.4L358.7 454.6L360.2 454.8L361.7 455.0L363.2 455.2L364.7 455.4L366.2 455.6L367.7 455.8L369.2 456.0L370.7 456.2L372.2 456.4L373.7 456.6L375.2 456.8L376.7 457.0L378.2 457.2L379.7 457.4L381.2 457.7L382.7 457.9L384.2 458.1L385.7 458.3L387.2 458.5L388.7 458.7L390.2 458.9L391.7 459.1L393.2 459.3L394.7 459.5L396.2 459.7L397.7 459.9L399.2 460.2L400.7 460.4L402.2 460.6L403.7 460.8L405.1 461.0L406.6 461.2L408.1 461.4L409.6 461.6L411.1 461.9L412.6 462.1L414.1 462.3L415.6 462.5L417.1 462.7L418.6 462.9L420.1 463.2L421.6 463.4L423.1 463.6" stroke="#111" stroke-width="1.6" fill="none" stroke-linejoin="round" stroke-dasharray="11.84 4.50"/>
<path d="M170.0 491.7L171.5 491.5L173.0 491.3L174.5 491.1L176.0 491.0L177.5 490.9L179.1 490.7L180.6 490.6L182.1 490.5L183.6 490.5L185.1 490.4L186.6 490.3L188.1 490.3L189.6 490.3L191.1 490.3L192.6 490.3L194.1 490.3L195.6 490.3L197.1 490.3L198.6 490.3L200.1 490.4L201.6 490.5L203.1 490.5L204.6 490.6L206.1 490.7L207.7 490.8L209.2 490.9L210.7 491.0L212.2 491.1L213.7 491.2L215.2 491.3L216.7 491.4L218.2 491.6L219.7 491.7L221.2 491.8L222.7 492.0L224.2 492.1L225.7 492.3L227.2 492.4L228.7 492.6L230.2 492.7L231.7 492.9L233.2 493.1L234.7 493.2L236.2 493.4L237.7 493.5L239.2 493.7L240.7 493.9L242.2 494.0L243.7 494.2L245.2 494.3L246.7 494.5L248.2 494.6L249.7 494.8L251.2 495.0L252.7 495.1L254.2 495.3L255.7 495.4L257.2 495.6L258.7 495.7L260.2 495.9L261.7 496.0L263.2 496.2L264.7 496.3L266.2 496.5L267.7 496.6L269.2 496.8L270.7 497.0L272.2 497.1L273.7 497.3L275.2 497.4L276.7 497.6L278.2 497.7L279.7 497.9L281.2 498.0L282.7 498.2L284.2 498.3L285.7 498.5L287.2 498.6L288.7 498.8L290.2 499.0L291.7 499.1L293.2 499.3L294.7 499.4L296.2 499.6L297.7 499.8L299.2 499.9L300.7 500.1L302.2 500.2L303.7 500.4L305.2 500.6L306.7 500.7L308.2 500.9L309.7 501.1L311.2 501.2L312.7 501.4L314.2 501.6L315.7 501.8L317.2 501.9L318.7 502.1L320.2 502.3L321.7 502.5L323.2 502.6L324.7 502.8L326.2 503.0L327.7 503.2L329.2 503.3L330.7 503.5L332.2 503.7L333.7 503.9L335.2 504.1L336.7 504.2L338.2 504.4L339.7 504.6L341.2 504.8L342.7 505.0L344.2 505.2L345.7 505.3L347.2 505.5L348.7 505.7L350.2 505.9L351.7 506.1L353.2 506.3L354.7 506.4L356.2 506.6L357.7 506.8L359.2 507.0L360.7 507.2L362.2 507.4L363.6 507.5L365.1 507.7L366.6 507.9L368.1 508.1L369.6 508.3L371.1 508.4L372.6 508.6L374.1 508.8L375.6 509.0L377.1 509.2L378.6 509.3L380.1 509.5L381.6 509.7L383.1 509.9L384.6 510.1L386.1 510.2L387.6 510.4L389.1 510.6L390.6 510.8L392.1 510.9L393.6 511.1L395.1 511.3L396.6 511.5L398.1 511.6L399.6 511.8L401.1 512.0L402.6 512.1L404.1 512.3L405.6 512.5L407.1 512.6L408.6 512.8L410.1 513.0L411.6 513.1L413.1 513.3L414.6 513.4L416.1 513.6L417.6 513.7L419.1 513.9L420.6 514.1L422.1 514.2L423.6 514.4L425.1 514.5L426.6 514.7L428.1 514.8L429.6 515.0L431.1 515.1L432.6 515.3L434.1 515.4L435.6 515.6L437.1 515.7L438.6 515.9L440.1 516.1L441.6 516.2L443.2 516.4L444.7 516.5L446.2 516.7L447.7 516.8L449.2 517.0L450.7 517.2L452.2 517.3L453.7 517.5L455.2 517.6L456.7 517.8L458.2 518.0L459.7 518.1L461.2 518.3L462.7 518.5L464.2 518.6L465.7 518.8L467.2 519.0L468.7 519.2L470.2 519.4L471.7 519.5L473.2 519.7L474.7 519.9L476.2 520.1L477.6 520.3L479.1 520.5L480.6 520.7L482.1 520.9L483.6 521.1L485.1 521.3L486.6 521.5L488.1 521.7L489.6 521.9L491.1 522.1L492.6 522.3L494.1 522.6L495.6 522.8L497.1 523.0L498.6 523.3L500.1 523.5L501.6 523.7L503.0 524.0L504.5 524.2L506.0 524.5L507.5 524.8L509.0 525.0" stroke="#111" stroke-width="1.6" fill="none" stroke-linejoin="round" stroke-dasharray="11.95 4.50"/>
<path d="M167.6 544.5L169.1 544.6L170.6 544.7L172.1 544.8L173.6 544.9L175.1 545.1L176.6 545.2L178.1 545.3L179.6 545.4L181.1 545.5L182.7 545.6L184.2 545.8L185.7 545.9L187.2 546.0L188.7 546.1L190.2 546.2L191.7 546.3L193.2 546.4L194.7 546.5L196.2 546.6L197.7 546.7L199.2 546.8L200.7 546.9L202.2 547.0L203.7 547.1L205.3 547.2L206.8 547.3L208.3 547.4L209.8 547.5L211.3 547.6L212.8 547.7L214.3 547.8L215.8 547.9L217.3 548.0L218.8 548.1L220.3 548.2L221.8 548.3L223.3 548.3L224.8 548.4L226.4 548.5L227.9 548.6L229.4 548.7L230.9 548.8L232.4 548.9L233.9 549.0L235.4 549.1L236.9 549.1L238.4 549.2L239.9 549.3L241.4 549.4L242.9 549.5L244.4 549.6L245.9 549.6L247.5 549.7L249.0 549.8L250.5 549.9L252.0 550.0L253.5 550.1L255.0 550.1L256.5 550.2L258.0 550.3L259.5 550.4L261.0 550.5L262.5 550.6L264.0 550.6L265.5 550.7L267.1 550.8L268.6 550.9L270.1 551.0L271.6 551.0L273.1 551.1L274.6 551.2L276.1 551.3L277.6 551.4L279.1 551.4L280.6 551.5L282.1 551.6L283.6 551.7L285.1 551.8L286.6 551.9L288.2 551.9L289.7 552.0L291.2 552.1L292.7 552.2L294.2 552.3L295.7 552.3L297.2 552.4L298.7 552.5L300.2 552.6L301.7 552.7L303.2 552.8L304.7 552.9L306.2 552.9L307.7 553.0L309.3 553.1L310.8 553.2L312.3 553.3L313.8 553.4L315.3 553.5L316.8 553.5L318.3 553.6L319.8 553.7L321.3 553.8L322.8 553.9L324.3 554.0L325.8 554.1L327.3 554.2L328.8 554.3L330.3 554.4L331.8 554.5L333.4 554.6L334.9 554.7L336.4 554.8L337.9 554.9L339.4 554.9L340.9 555.0L342.4 555.1L343.9 555.2L345.4 555.4L346.9 555.5L348.4 555.6L349.9 555.7L351.4 555.8L352.9 555.9L354.4 556.0L355.9 556.1L357.4 556.2L358.9 556.3L360.4 556.4L362.0 556.5L363.5 556.6L365.0 556.8L366.5 556.9L368.0 557.0L369.5 557.1L371.0 557.2L372.5 557.3L374.0 557.5L375.5 557.6L377.0 557.7L378.5 557.8L380.0 558.0L381.5 558.1L383.0 558.2L384.5 558.4L386.0 558.5L387.5 558.6L389.0 558.8L390.5 558.9L392.0 559.0L393.5 559.2L395.0 559.3L396.5 559.4L398.0 559.6L399.5 559.7L401.0 559.9L402.5 560.0L404.0 560.2L405.5 560.3L407.0 560.5L408.5 560.6L410.0 560.8L411.5 560.9L413.0 561.1L414.5 561.3L416.0 561.4L417.5 561.6L419.0 561.8L420.5 561.9L422.0 562.1L423.5 562.3L425.0 562.4L426.5 562.6L428.0 562.8L429.5 562.9L431.0 563.1L432.5 563.3L434.0 563.5L435.5 563.7L437.0 563.8L438.5 564.0L440.0 564.2L441.5 564.4L443.0 564.6L444.5 564.7L446.0 564.9L447.5 565.1L449.0 565.3L450.5 565.5L452.0 565.7L453.5 565.8L455.0 566.0L456.5 566.2L458.0 566.4L459.5 566.6L461.0 566.8L462.5 567.0L464.0 567.2L465.5 567.4L467.0 567.5L468.5 567.7L470.0 567.9L471.5 568.1L473.0 568.3L474.5 568.5L476.0 568.7L477.5 568.9L479.0 569.1L480.5 569.2L482.0 569.4L483.5 569.6L485.0 569.8L486.5 570.0L488.0 570.2L489.5 570.4L491.0 570.5L492.5 570.7L494.0 570.9L495.5 571.1L497.0 571.3L498.5 571.5L500.0 571.6L501.5 571.8L503.0 572.0L504.5 572.2L506.0 572.4L507.5 572.5L509.0 572.7" stroke="#111" stroke-width="1.6" fill="none" stroke-linejoin="round" stroke-dasharray="12.03 4.50"/>
<path d="M168.3 584.4L169.8 584.5L171.3 584.5L172.8 584.6L174.3 584.7L175.8 584.8L177.4 584.9L178.9 584.9L180.4 585.0L181.9 585.1L183.4 585.2L184.9 585.2L186.4 585.3L187.9 585.4L189.4 585.5L190.9 585.6L192.4 585.6L193.9 585.7L195.5 585.8L197.0 585.9L198.5 585.9L200.0 586.0L201.5 586.1L203.0 586.2L204.5 586.3L206.0 586.3L207.5 586.4L209.0 586.5L210.5 586.6L212.0 586.6L213.6 586.7L215.1 586.8L216.6 586.9L218.1 586.9L219.6 587.0L221.1 587.1L222.6 587.2L224.1 587.2L225.6 587.3L227.1 587.4L228.6 587.5L230.2 587.5L231.7 587.6L233.2 587.7L234.7 587.8L236.2 587.8L237.7 587.9L239.2 588.0L240.7 588.1L242.2 588.1L243.7 588.2L245.2 588.3L246.7 588.4L248.3 588.4L249.8 588.5L251.3 588.6L252.8 588.7L254.3 588.7L255.8 588.8L257.3 588.9L258.8 589.0L260.3 589.0L261.8 589.1L263.3 589.2L264.9 589.3L266.4 589.3L267.9 589.4L269.4 589.5L270.9 589.6L272.4 589.6L273.9 589.7L275.4 589.8L276.9 589.9L278.4 589.9L279.9 590.0L281.5 590.1L283.0 590.2L284.5 590.2L286.0 590.3L287.5 590.4L289.0 590.5L290.5 590.6L292.0 590.6L293.5 590.7L295.0 590.8L296.5 590.9L298.0 590.9L299.6 591.0L301.1 591.1L302.6 591.2L304.1 591.3L305.6 591.3L307.1 591.4L308.6 591.5L310.1 591.6L311.6 591.7L313.1 591.7L314.6 591.8L316.2 591.9L317.7 592.0L319.2 592.1L320.7 592.1L322.2 592.2L323.7 592.3L325.2 592.4L326.7 592.5L328.2 592.5L329.7 592.6L331.2 592.7L332.7 592.8L334.3 592.9L335.8 593.0L337.3 593.0L338.8 593.1L340.3 593.2L341.8 593.3L343.3 593.4L344.8 593.5L346.3 593.6L347.8 593.6L349.3 593.7L350.8 593.8L352.4 593.9L353.9 594.0L355.4 594.1L356.9 594.2L358.4 594.3L359.9 594.3L361.4 594.4L362.9 594.5L364.4 594.6L365.9 594.7L367.4 594.8L368.9 594.9L370.4 595.0L372.0 595.1L373.5 595.2L375.0 595.3L376.5 595.3L378.0 595.4L379.5 595.5L381.0 595.6L382.5 595.7L384.0 595.8L385.5 595.9L387.0 596.0L388.5 596.1L390.0 596.2L391.6 596.3L393.1 596.4L394.6 596.5L396.1 596.6L397.6 596.7L399.1 596.8L400.6 596.9L402.1 597.0L403.6 597.1L405.1 597.2L406.6 597.3L408.1 597.4L409.6 597.5L411.1 597.6L412.7 597.7L414.2 597.8L415.7 597.9L417.2 598.0L418.7 598.1L420.2 598.2L421.7 598.3L423.2 598.5L424.7 598.6L426.2 598.7L427.7 598.8L429.2 598.9L430.7 599.0L432.2 599.1L433.7 599.2L435.3 599.3L436.8 599.5L438.3 599.6L439.8 599.7L441.3 599.8L442.8 599.9L444.3 600.0L445.8 600.1L447.3 600.3L448.8 600.4L450.3 600.5L451.8 600.6L453.3 600.7L454.8 600.9L456.3 601.0L457.8 601.1L459.3 601.2L460.9 601.4L462.4 601.5L463.9 601.6L465.4 601.7L466.9 601.9L468.4 602.0L469.9 602.1L471.4 602.2L472.9 602.4L474.4 602.5L475.9 602.6L477.4 602.8L478.9 602.9L480.4 603.0L481.9 603.1L483.4 603.3L484.9 603.4L486.4 603.6L487.9 603.7L489.4 603.8L491.0 604.0L492.5 604.1L494.0 604.2L495.5 604.4L497.0 604.5L498.5 604.7L500.0 604.8L501.5 604.9L503.0 605.1L504.5 605.2L506.0 605.4L507.5 605.5L509.0 605.7" stroke="#111" stroke-width="1.6" fill="none" stroke-linejoin="round" stroke-dasharray="11.97 4.50"/>
<path d="M168.3 620.4L169.8 620.5L171.3 620.5L172.8 620.5L174.3 620.5L175.9 620.5L177.4 620.6L178.9 620.6L180.4 620.6L181.9 620.6L183.4 620.6L184.9 620.7L186.4 620.7L187.9 620.7L189.4 620.8L191.0 620.8L192.5 620.8L194.0 620.8L195.5 620.9L197.0 620.9L198.5 620.9L200.0 621.0L201.5 621.0L203.0 621.0L204.5 621.1L206.1 621.1L207.6 621.1L209.1 621.2L210.6 621.2L212.1 621.3L213.6 621.3L215.1 621.3L216.6 621.4L218.1 621.4L219.6 621.5L221.2 621.5L222.7 621.5L224.2 621.6L225.7 621.6L227.2 621.7L228.7 621.7L230.2 621.8L231.7 621.8L233.2 621.9L234.7 621.9L236.2 622.0L237.8 622.0L239.3 622.1L240.8 622.1L242.3 622.2L243.8 622.2L245.3 622.3L246.8 622.3L248.3 622.4L249.8 622.4L251.3 622.5L252.9 622.5L254.4 622.6L255.9 622.6L257.4 622.7L258.9 622.8L260.4 622.8L261.9 622.9L263.4 622.9L264.9 623.0L266.4 623.1L267.9 623.1L269.5 623.2L271.0 623.2L272.5 623.3L274.0 623.4L275.5 623.4L277.0 623.5L278.5 623.5L280.0 623.6L281.5 623.7L283.0 623.7L284.5 623.8L286.0 623.9L287.6 623.9L289.1 624.0L290.6 624.1L292.1 624.1L293.6 624.2L295.1 624.3L296.6 624.3L298.1 624.4L299.6 624.5L301.1 624.5L302.6 624.6L304.2 624.7L305.7 624.7L307.2 624.8L308.7 624.9L310.2 625.0L311.7 625.0L313.2 625.1L314.7 625.2L316.2 625.2L317.7 625.3L319.2 625.4L320.7 625.5L322.3 625.5L323.8 625.6L325.3 625.7L326.8 625.8L328.3 625.8L329.8 625.9L331.3 626.0L332.8 626.0L334.3 626.1L335.8 626.2L337.3 626.3L338.8 626.3L340.4 626.4L341.9 626.5L343.4 626.6L344.9 626.7L346.4 626.7L347.9 626.8L349.4 626.9L350.9 627.0L352.4 627.0L353.9 627.1L355.4 627.2L356.9 627.3L358.5 627.3L360.0 627.4L361.5 627.5L363.0 627.6L364.5 627.6L366.0 627.7L367.5 627.8L369.0 627.9L370.5 628.0L372.0 628.0L373.5 628.1L375.0 628.2L376.5 628.3L378.1 628.3L379.6 628.4L381.1 628.5L382.6 628.6L384.1 628.7L385.6 628.7L387.1 628.8L388.6 628.9L390.1 629.0L391.6 629.0L393.1 629.1L394.6 629.2L396.2 629.3L397.7 629.4L399.2 629.4L400.7 629.5L402.2 629.6L403.7 629.7L405.2 629.7L406.7 629.8L408.2 629.9L409.7 630.0L411.2 630.1L412.7 630.1L414.3 630.2L415.8 630.3L417.3 630.4L418.8 630.4L420.3 630.5L421.8 630.6L423.3 630.7L424.8 630.7L426.3 630.8L427.8 630.9L429.3 631.0L430.8 631.0L432.4 631.1L433.9 631.2L435.4 631.3L436.9 631.3L438.4 631.4L439.9 631.5L441.4 631.6L442.9 631.6L444.4 631.7L445.9 631.8L447.4 631.9L448.9 631.9L450.5 632.0L452.0 632.1L453.5 632.1L455.0 632.2L456.5 632.3L458.0 632.4L459.5 632.4L461.0 632.5L462.5 632.6L464.0 632.6L465.5 632.7L467.0 632.8L468.6 632.8L470.1 632.9L471.6 633.0L473.1 633.0L474.6 633.1L476.1 633.2L477.6 633.2L479.1 633.3L480.6 633.4L482.1 633.4L483.6 633.5L485.2 633.6L486.7 633.6L488.2 633.7L489.7 633.8L491.2 633.8L492.7 633.9L494.2 634.0L495.7 634.0L497.2 634.1L498.7 634.1L500.2 634.2L501.8 634.3L503.3 634.3L504.8 634.4L506.3 634.4L507.8 634.5L509.3 634.5" stroke="#111" stroke-width="1.6" fill="none" stroke-linejoin="round" stroke-dasharray="11.97 4.50"/>
<path d="M169.0 638.1L170.5 638.1L172.0 638.2L173.5 638.2L175.0 638.2L176.6 638.3L178.1 638.3L179.6 638.3L181.1 638.4L182.6 638.4L184.1 638.4L185.6 638.5L187.2 638.5L188.7 638.5L190.2 638.5L191.7 638.6L193.2 638.6L194.7 638.6L196.2 638.7L197.7 638.7L199.3 638.7L200.8 638.8L202.3 638.8L203.8 638.8L205.3 638.9L206.8 638.9L208.3 638.9L209.8 639.0L211.4 639.0L212.9 639.0L214.4 639.0L215.9 639.1L217.4 639.1L218.9 639.1L220.4 639.2L221.9 639.2L223.5 639.2L225.0 639.2L226.5 639.3L228.0 639.3L229.5 639.3L231.0 639.4L232.5 639.4L234.0 639.4L235.6 639.5L237.1 639.5L238.6 639.5L240.1 639.5L241.6 639.6L243.1 639.6L244.6 639.6L246.1 639.7L247.7 639.7L249.2 639.7L250.7 639.7L252.2 639.8L253.7 639.8L255.2 639.8L256.7 639.9L258.2 639.9L259.8 639.9L261.3 639.9L262.8 640.0L264.3 640.0L265.8 640.0L267.3 640.1L268.8 640.1L270.3 640.1L271.9 640.2L273.4 640.2L274.9 640.2L276.4 640.2L277.9 640.3L279.4 640.3L280.9 640.3L282.4 640.4L284.0 640.4L285.5 640.4L287.0 640.5L288.5 640.5L290.0 640.5L291.5 640.6L293.0 640.6L294.5 640.6L296.1 640.6L297.6 640.7L299.1 640.7L300.6 640.7L302.1 640.8L303.6 640.8L305.1 640.8L306.6 640.9L308.2 640.9L309.7 640.9L311.2 641.0L312.7 641.0L314.2 641.0L315.7 641.1L317.2 641.1L318.7 641.1L320.3 641.2L321.8 641.2L323.3 641.3L324.8 641.3L326.3 641.3L327.8 641.4L329.3 641.4L330.8 641.4L332.4 641.5L333.9 641.5L335.4 641.5L336.9 641.6L338.4 641.6L339.9 641.7L341.4 641.7L342.9 641.7L344.5 641.8L346.0 641.8L347.5 641.9L349.0 641.9L350.5 641.9L352.0 642.0L353.5 642.0L355.0 642.1L356.6 642.1L358.1 642.1L359.6 642.2L361.1 642.2L362.6 642.3L364.1 642.3L365.6 642.4L367.1 642.4L368.7 642.5L370.2 642.5L371.7 642.5L373.2 642.6L374.7 642.6L376.2 642.7L377.7 642.7L379.2 642.8L380.7 642.8L382.3 642.9L383.8 642.9L385.3 643.0L386.8 643.0L388.3 643.1L389.8 643.1L391.3 643.2L392.8 643.2L394.4 643.3L395.9 643.3L397.4 643.4L398.9 643.4L400.4 643.5L401.9 643.6L403.4 643.6L404.9 643.7L406.5 643.7L408.0 643.8L409.5 643.8L411.0 643.9L412.5 644.0L414.0 644.0L415.5 644.1L417.0 644.1L418.5 644.2L420.1 644.3L421.6 644.3L423.1 644.4L424.6 644.4L426.1 644.5L427.6 644.6L429.1 644.6L430.6 644.7L432.1 644.8L433.7 644.8L435.2 644.9L436.7 645.0L438.2 645.0L439.7 645.1L441.2 645.2L442.7 645.2L444.2 645.3L445.8 645.4L447.3 645.5L448.8 645.5L450.3 645.6L451.8 645.7L453.3 645.7L454.8 645.8L456.3 645.9L457.8 646.0L459.4 646.1L460.9 646.1L462.4 646.2L463.9 646.3L465.4 646.4L466.9 646.4L468.4 646.5L469.9 646.6L471.4 646.7L473.0 646.8L474.5 646.9L476.0 646.9L477.5 647.0L479.0 647.1L480.5 647.2L482.0 647.3L483.5 647.4L485.0 647.5L486.5 647.6L488.1 647.7L489.6 647.7L491.1 647.8L492.6 647.9L494.1 648.0L495.6 648.1L497.1 648.2L498.6 648.3L500.1 648.4L501.7 648.5L503.2 648.6L504.7 648.7L506.2 648.8L507.7 648.9" stroke="#111" stroke-width="1.6" fill="none" stroke-linejoin="round" stroke-dasharray="11.85 4.50"/>
<text x="159.9" y="116.6" text-anchor="end" font-size="9.3" font-family="Liberation Sans, sans-serif">40</text>
<text x="159.9" y="186.0" text-anchor="end" font-size="9.3" font-family="Liberation Sans, sans-serif">35</text>
<text x="159.9" y="257.6" text-anchor="end" font-size="9.3" font-family="Liberation Sans, sans-serif">30</text>
<text x="159.9" y="328.8" text-anchor="end" font-size="9.3" font-family="Liberation Sans, sans-serif">25</text>
<text x="159.9" y="400.1" text-anchor="end" font-size="9.3" font-family="Liberation Sans, sans-serif">20</text>
<text x="159.9" y="470.6" text-anchor="end" font-size="9.3" font-family="Liberation Sans, sans-serif">15</text>
<text x="159.9" y="542.2" text-anchor="end" font-size="9.3" font-family="Liberation Sans, sans-serif">10</text>
<text x="159.9" y="613.0" text-anchor="end" font-size="9.3" font-family="Liberation Sans, sans-serif">5</text>
<text x="159.9" y="684.9" text-anchor="end" font-size="9.3" font-family="Liberation Sans, sans-serif">0</text>
<text x="166.7" y="694.5" text-anchor="middle" font-size="9.3" font-family="Liberation Sans, sans-serif">0</text>
<text x="252.9" y="694.5" text-anchor="middle" font-size="9.3" font-family="Liberation Sans, sans-serif">50</text>
<text x="339.3" y="694.8" text-anchor="middle" font-size="9.3" font-family="Liberation Sans, sans-serif">100</text>
<text x="423.9" y="695.4" text-anchor="middle" font-size="9.3" font-family="Liberation Sans, sans-serif">150</text>
<text x="509.5" y="695.6" text-anchor="middle" font-size="9.3" font-family="Liberation Sans, sans-serif">200</text>
<text x="140.4" y="171.8" text-anchor="end" font-size="9.3" font-family="Liberation Sans, sans-serif">50 nF</text>
<text x="140.4" y="273.0" text-anchor="end" font-size="9.3" font-family="Liberation Sans, sans-serif">70 nF</text>
<text x="140.4" y="343.2" text-anchor="end" font-size="9.3" font-family="Liberation Sans, sans-serif">100 nF</text>
<text x="140.4" y="390.1" text-anchor="end" font-size="9.3" font-family="Liberation Sans, sans-serif">150 nF</text>
<text x="140.4" y="413.2" text-anchor="end" font-size="9.3" font-family="Liberation Sans, sans-serif">200 nF</text>
<text x="140.4" y="438.0" text-anchor="end" font-size="9.3" font-family="Liberation Sans, sans-serif">300 nF</text>
<text x="140.4" y="493.8" text-anchor="end" font-size="9.3" font-family="Liberation Sans, sans-serif">500 nF</text>
<text x="140.4" y="546.0" text-anchor="end" font-size="9.3" font-family="Liberation Sans, sans-serif">1 µF</text>
<text x="140.4" y="588.3" text-anchor="end" font-size="9.3" font-family="Liberation Sans, sans-serif">2 µF</text>
<text x="140.4" y="622.0" text-anchor="end" font-size="9.3" font-family="Liberation Sans, sans-serif">5 µF</text>
<text x="140.4" y="640.0" text-anchor="end" font-size="9.3" font-family="Liberation Sans, sans-serif">10 µF</text>
<text x="114.4" y="132.2" font-size="10.0" textLength="21.6" lengthAdjust="spacingAndGlyphs" font-family="Liberation Sans, sans-serif"><tspan font-style="italic">U</tspan><tspan font-size="7" dy="2.5">o</tspan><tspan dy="-2.5">, V</tspan></text>
<text x="490.7" y="705.9" font-size="10.0" textLength="26.5" lengthAdjust="spacingAndGlyphs" font-family="Liberation Sans, sans-serif"><tspan font-style="italic">I</tspan><tspan font-size="7" dy="2.5">o</tspan><tspan dy="-2.5">, mA</tspan></text>
<text x="412.5" y="163.2" font-size="9.3" font-family="Liberation Sans, sans-serif">IIC; 1 mH</text>
<text x="365.0" y="302.8" text-anchor="middle" font-size="12.5" font-style="italic" font-family="Liberation Sans, sans-serif">2</text>
<text x="304.0" y="488.8" text-anchor="middle" font-size="13" font-style="italic" font-family="Liberation Sans, sans-serif">1</text>
<text x="457.8" y="76.5" font-size="10.6" font-weight="bold" stroke="#000" stroke-width="0.2" textLength="124" lengthAdjust="spacingAndGlyphs" font-family="Liberation Sans, sans-serif">ГОСТ Р 52350.25—2006</text>
<text x="48.0" y="736.2" font-size="7.8" textLength="533.6" lengthAdjust="spacing" fill="#2a2a2a" font-family="Liberation Sans, sans-serif"><tspan font-style="italic">1</tspan> — индуктивный предел для источника с прямоугольной характеристикой; <tspan font-style="italic">2</tspan> — индуктивный предел для источника с линейной</text>
<text x="279.2" y="745.8" font-size="7.8" textLength="70.8" lengthAdjust="spacing" fill="#2a2a2a" font-family="Liberation Sans, sans-serif">характеристикой</text>
<text x="227.0" y="769.8" font-size="8.6" textLength="175" lengthAdjust="spacing" fill="#2a2a2a" font-family="Liberation Sans, sans-serif">Рисунок С.7с — Диаграмма для 1мГн</text>
<text x="571.7" y="858.2" font-size="10" font-weight="bold" textLength="9.7" lengthAdjust="spacingAndGlyphs" font-family="Liberation Serif, serif">27</text>
</g>
</svg>
</body></html>
